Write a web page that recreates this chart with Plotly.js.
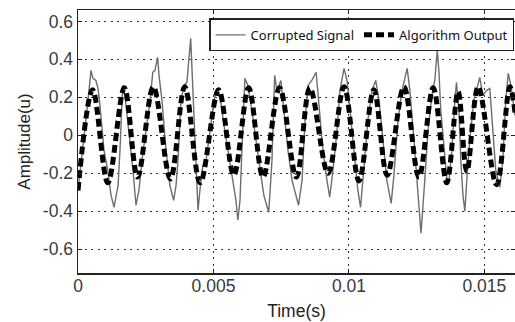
<!DOCTYPE html>
<html>
<head>
<meta charset="utf-8">
<script src="https://cdn.plot.ly/plotly-3.0.1.min.js"></script>
<style>html,body{margin:0;padding:0;background:#fff;}#chart{width:515px;height:322px;}</style>
</head>
<body>
<div id="chart"></div>
<script>
// Corrupted signal (time in s, amplitude)
const corruptedTime = [0, 0.00022, 0.00037, 0.00048, 0.00055, 0.00066, 0.00074, 0.00081, 0.00096, 0.00111, 0.00122, 0.00133, 0.00140, 0.00148, 0.00155, 0.00165, 0.00173, 0.00192, 0.00203, 0.00214, 0.00225, 0.00236, 0.00251, 0.00266, 0.00276, 0.00284, 0.00294, 0.00299, 0.00310, 0.00325, 0.00339, 0.00353, 0.00362, 0.00369, 0.00380, 0.00391, 0.00402, 0.00416, 0.00421, 0.00428, 0.00435, 0.00443, 0.00450, 0.00461, 0.00472, 0.00487, 0.00502, 0.00513, 0.00524, 0.00539, 0.00554, 0.00568, 0.00583, 0.00590, 0.00598, 0.00605, 0.00616, 0.00627, 0.00642, 0.00657, 0.00672, 0.00686, 0.00704, 0.00716, 0.00726, 0.00734, 0.00749, 0.00760, 0.00775, 0.00790, 0.00814, 0.00827, 0.00838, 0.00849, 0.00863, 0.00879, 0.00889, 0.00904, 0.00919, 0.00929, 0.00941, 0.00956, 0.00967, 0.00982, 0.00993, 0.01004, 0.01018, 0.01033, 0.01043, 0.01055, 0.01070, 0.01085, 0.01099, 0.01111, 0.01125, 0.01140, 0.01156, 0.01166, 0.01181, 0.01196, 0.01215, 0.01225, 0.01240, 0.01255, 0.01266, 0.01280, 0.01292, 0.01306, 0.01317, 0.01326, 0.01332, 0.01339, 0.01351, 0.01362, 0.01369, 0.01380, 0.01391, 0.01397, 0.01406, 0.01413, 0.01421, 0.01428, 0.01435, 0.01446, 0.01461, 0.01476, 0.01483, 0.01494, 0.01509, 0.01520, 0.01531, 0.01542, 0.01557, 0.01568, 0.01579, 0.01588, 0.01598, 0.01613];
const corruptedAmp = [-0.289, -0.026, 0.184, 0.342, 0.300, 0.289, 0.247, 0.158, -0.079, -0.195, -0.316, -0.379, -0.332, -0.263, -0.079, 0.263, 0.211, -0.026, -0.184, -0.368, -0.289, -0.132, 0.026, 0.184, 0.332, 0.342, 0.411, 0.316, 0.184, -0.079, -0.263, -0.342, -0.263, -0.132, 0.184, 0.263, 0.279, 0.511, 0.342, 0.079, -0.184, -0.395, -0.289, -0.158, -0.142, 0.026, 0.184, 0.247, 0.211, 0.053, -0.079, -0.211, -0.342, -0.447, -0.342, -0.079, 0.300, 0.263, 0.132, -0.026, -0.184, -0.316, -0.405, -0.132, 0.316, 0.237, 0.289, 0.132, -0.079, -0.237, -0.368, -0.237, 0.079, 0.263, 0.289, 0.332, 0.184, -0.079, -0.237, -0.326, -0.184, 0.026, 0.237, 0.353, 0.289, 0.132, -0.079, -0.289, -0.379, -0.184, 0.079, 0.237, 0.289, 0.184, -0.026, -0.237, -0.358, -0.211, 0.079, 0.237, 0.353, 0.237, -0.026, -0.289, -0.516, -0.237, 0.026, 0.211, 0.289, 0.447, 0.342, 0.132, -0.079, -0.237, -0.247, -0.079, 0.184, 0.279, 0.132, -0.132, -0.316, -0.400, -0.237, -0.026, 0.184, 0.263, 0.305, 0.211, 0.237, 0.247, 0.026, -0.184, -0.274, -0.132, 0.184, 0.326, 0.263, 0.105];

// Algorithm output (peaks and troughs)
const outputTime = [0, 0.00054, 0.00110, 0.00171, 0.00220, 0.00278, 0.00341, 0.00394, 0.00451, 0.00519, 0.00575, 0.00630, 0.00683, 0.00744, 0.00806, 0.00856, 0.00923, 0.00982, 0.01037, 0.01092, 0.01141, 0.01203, 0.01258, 0.01311, 0.01361, 0.01403, 0.01435, 0.01477, 0.01545, 0.01594, 0.01613];
const outputAmp = [-0.29, 0.24, -0.25, 0.25, -0.22, 0.255, -0.23, 0.256, -0.25, 0.24, -0.21, 0.25, -0.22, 0.25, -0.22, 0.25, -0.20, 0.256, -0.24, 0.24, -0.21, 0.256, -0.22, 0.25, -0.25, 0.23, -0.19, 0.256, -0.26, 0.256, 0.12];

const xTickVals = [0, 0.005, 0.01, 0.015];
const xTickText = ['0', '0.005', '0.01', '0.015'];
const yTickVals = [-0.6, -0.4, -0.2, 0, 0.2, 0.4, 0.6];
const yTickText = ['-0.6', '-0.4', '-0.2', '0', '0.2', '0.4', '0.6'];

const traces = [
  {x: corruptedTime, y: corruptedAmp, type: 'scatter', mode: 'lines', name: 'Corrupted Signal',
   line: {color: '#6e6e6e', width: 1.4}},
  {x: outputTime, y: outputAmp, type: 'scatter', mode: 'lines', name: 'Algorithm Output',
   line: {color: '#000', width: 5, dash: '8px,4px', shape: 'spline', smoothing: 1}}
];

const tickFont = {family: 'Liberation Sans, Arial, sans-serif', size: 17.5, color: '#3a3a3a'};
const layout = {
  width: 515, height: 322,
  margin: {l: 78, r: 0, t: 10, b: 49},
  paper_bgcolor: '#fff', plot_bgcolor: '#fff',
  showlegend: true,
  legend: {orientation: 'h', x: 0.3, xanchor: 'left', y: 0.968, yanchor: 'top',
    bgcolor: '#fff', bordercolor: '#222', borderwidth: 1.5,
    font: {family: 'Noto Sans, sans-serif', size: 13, color: '#111'}},
  xaxis: {range: [0, 0.01613], tickvals: xTickVals, ticktext: xTickText,
    showline: true, linecolor: '#222', linewidth: 1.5, mirror: 'ticks',
    ticks: 'inside', ticklen: 4, tickcolor: '#222', ticklabelstandoff: -4,
    showgrid: true, gridcolor: '#333', gridwidth: 1, griddash: '2px,4.5px',
    zeroline: false, tickfont: tickFont,
    title: {text: 'Time(s)', font: {family: 'Liberation Sans, Arial, sans-serif', size: 17.5, color: '#222'}, standoff: 10}},
  yaxis: {range: [-0.725, 0.66], tickvals: yTickVals, ticktext: yTickText,
    showline: true, linecolor: '#222', linewidth: 1.5, mirror: 'ticks',
    ticks: 'inside', ticklen: 4, tickcolor: '#222',
    showgrid: true, gridcolor: '#333', gridwidth: 1, griddash: '2px,4.5px',
    zeroline: false, tickfont: tickFont,
    title: {text: 'Amplitude(u)', font: {family: 'Liberation Sans, Arial, sans-serif', size: 17, color: '#222'}, standoff: 8}}
};

Plotly.newPlot('chart', traces, layout, {displayModeBar: false, staticPlot: true});
</script>
</body>
</html>
